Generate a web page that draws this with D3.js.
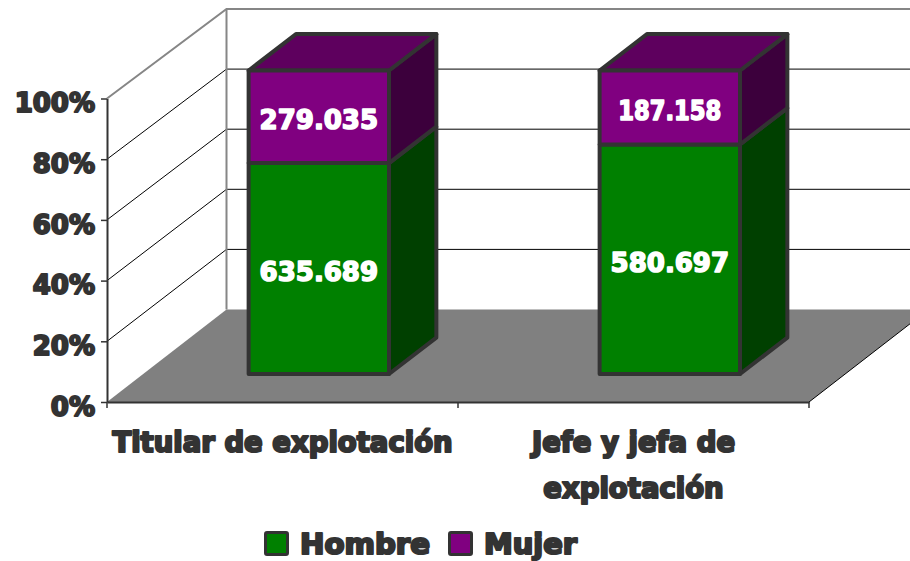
<!DOCTYPE html>
<html>
<head>
<meta charset="utf-8">
<script src="https://cdn.jsdelivr.net/npm/d3@7"></script>
<style>
  body { margin: 0; background: #fff; overflow: hidden; }
  svg { display: block; }
  text { font-family: "DejaVu Sans", sans-serif; font-weight: 700; paint-order: stroke; stroke-linejoin: round; }
</style>
</head>
<body>
<div id="viz"></div>
<script>
let categories = ["Titular de explotación", "Jefe y jefa de explotación"];
let seriesNames = ["Hombre", "Mujer"];
let hombre = [635689, 580697];
let mujer = [279035, 187158];
let yTicks = [0, 20, 40, 60, 80, 100];
let seriesColors = ["#008000", "#800080"];
let topColors = ["#006000", "#5e005e"];
let sideColors = ["#004000", "#3c003c"];

let w = 910;
let h = 561;
let depthX = 119.5;
let depthY = 92;
let barFront = 0.304;
let barBack = 0.7;

let viz = d3.select("#viz").append("svg").attr("width", w).attr("height", h);

let xScale = d3.scaleBand().domain(categories).range([107, 809]);
let yScale = d3.scaleLinear().domain([0, 100]).range([402, 98.5]);
// back wall is a bit shorter than the front plane
let yBack = d3.scaleLinear().domain([0, 100]).range([309.5, 9]);

let rows = categories.map((c, i) => ({ cat: c, Hombre: hombre[i], Mujer: mujer[i] }));
let stacked = d3.stack().keys(seriesNames).offset(d3.stackOffsetExpand)(rows);
let es = d3.formatLocale({ decimal: ",", thousands: ".", grouping: [3], currency: ["", "€"] }).format(",d");

// front plane point pushed back into the 3d box
function pt(x, pct, depth) {
  return [x + depth * depthX, yScale(pct) - depth * depthY];
}
function backPt(x, pct) {
  return [x + depthX, yBack(pct)];
}
let line = d3.line();
function poly(points) {
  return line(points) + "Z";
}

let x0 = xScale.range()[0];
let x1 = xScale.range()[1];

// walls
let walls = viz.append("g");
yTicks.forEach(t => {
  let stroke = t == 100 ? "#868686" : "#000";
  let sw = t == 100 ? 2 : 1;
  if (t > 0) {
    walls.append("path").attr("d", line([pt(x0, t, 0), backPt(x0, t), backPt(x1 + 40, t)]))
      .attr("fill", "none").attr("stroke", stroke).attr("stroke-width", sw);
  }
});
walls.append("path").attr("d", line([backPt(x0, 0), backPt(x0, 100)]))
  .attr("stroke", "#868686").attr("stroke-width", 2).attr("fill", "none");

// floor
viz.append("path")
  .attr("d", poly([pt(x0, 0, 0), pt(x1, 0, 0), backPt(x1, 0), backPt(x0, 0)]))
  .attr("fill", "#808080");
viz.append("path")
  .attr("d", line([pt(x1, 0, 0), backPt(x1, 0)]))
  .attr("stroke", "#000").attr("stroke-width", 1).attr("fill", "none");

// y axis
let yAxisGroup = viz.append("g").attr("transform", "translate(" + x0 + ",0)")
  .call(d3.axisLeft(yScale).tickValues(yTicks).tickFormat(d => d + "%").tickSize(6).tickSizeOuter(0));
yAxisGroup.select(".domain").attr("stroke", "#333").attr("stroke-width", 2);
yAxisGroup.selectAll(".tick line").attr("stroke", "#333").attr("stroke-width", 1.5);
yAxisGroup.selectAll(".tick text")
  .attr("x", -12).attr("y", 4).attr("dy", "0.36em")
  .attr("fill", "#333").attr("stroke", "#333").attr("stroke-width", 2)
  .style("font-family", "'DejaVu Sans', sans-serif").style("font-size", "26px");

// x axis, ticks sit between the categories
let xAxisGroup = viz.append("g").attr("transform", "translate(0," + yScale(0) + ")")
  .call(d3.axisBottom(xScale).tickSize(0).tickFormat(""));
xAxisGroup.select(".domain").attr("stroke", "#333").attr("stroke-width", 2);
[0, 1, 2].forEach(i => {
  let tx = x0 + i * xScale.step();
  xAxisGroup.append("line").attr("x1", tx).attr("x2", tx).attr("y1", 0).attr("y2", 6)
    .attr("stroke", "#333").attr("stroke-width", 1.5);
});

let catLabels = [["Titular de explotación"], ["Jefe y jefa de", "explotación"]];
categories.forEach((c, i) => {
  catLabels[i].forEach((txt, j) => {
    viz.append("text")
      .text(txt)
      .attr("x", xScale(c) + xScale.bandwidth() / 2)
      .attr("y", 452 + j * 46)
      .attr("text-anchor", "middle")
      .attr("fill", "#333").attr("stroke", "#333").attr("stroke-width", 2.2)
      .attr("font-size", 27.5);
  });
});

// bars
let barWidth = xScale.step() * 0.4;
let barStroke = "#333";
stacked.forEach((layer, s) => {
  layer.forEach(d => {
    let left = xScale(d.data.cat) + (xScale.step() - barWidth) / 2;
    let right = left + barWidth;
    let lo = d[0] * 100;
    let hi = d[1] * 100;
    let g = viz.append("g")
      .attr("stroke", barStroke).attr("stroke-width", 4).attr("stroke-linejoin", "round");
    g.append("path")
      .attr("d", poly([pt(right, lo, barFront), pt(right, lo, barBack), pt(right, hi, barBack), pt(right, hi, barFront)]))
      .attr("fill", sideColors[s]);
    if (s == stacked.length - 1) {
      g.append("path")
        .attr("d", poly([pt(left, hi, barFront), pt(right, hi, barFront), pt(right, hi, barBack), pt(left, hi, barBack)]))
        .attr("fill", topColors[s]);
    }
    g.append("path")
      .attr("d", poly([pt(left, lo, barFront), pt(right, lo, barFront), pt(right, hi, barFront), pt(left, hi, barFront)]))
      .attr("fill", seriesColors[s]);
  });
});

// value labels, on top of the bars
stacked.forEach(layer => {
  layer.forEach(d => {
    let cx = xScale(d.data.cat) + xScale.step() / 2 + barFront * depthX;
    let cy = yScale((d[0] + d[1]) * 50) - barFront * depthY + 3;
    let label = viz.append("text")
      .text(es(d.data[layer.key]))
      .attr("x", cx).attr("y", cy).attr("dy", "0.36em")
      .attr("text-anchor", "middle")
      .attr("fill", "#fff").attr("stroke", "#fff").attr("stroke-width", 1.6)
      .attr("font-size", 26);
    // the ones are narrow in the original face
    if (label.text().includes("1")) {
      label.attr("textLength", 103).attr("lengthAdjust", "spacingAndGlyphs");
    }
  });
});

// legend
let legendX = [264, 448];
let legendText = [300, 484];
let legendWidth = [130, 93];
seriesNames.forEach((name, i) => {
  viz.append("rect")
    .attr("x", legendX[i] + 1.5).attr("y", 532.5).attr("width", 22).attr("height", 22).attr("rx", 1.5)
    .attr("fill", seriesColors[i]).attr("stroke", "#333").attr("stroke-width", 3);
  viz.append("text")
    .text(name)
    .attr("x", legendText[i]).attr("y", 554)
    .attr("fill", "#333").attr("stroke", "#333").attr("stroke-width", 2.2)
    .attr("font-size", 28)
    .attr("textLength", legendWidth[i]).attr("lengthAdjust", "spacingAndGlyphs");
});
</script>
</body>
</html>
